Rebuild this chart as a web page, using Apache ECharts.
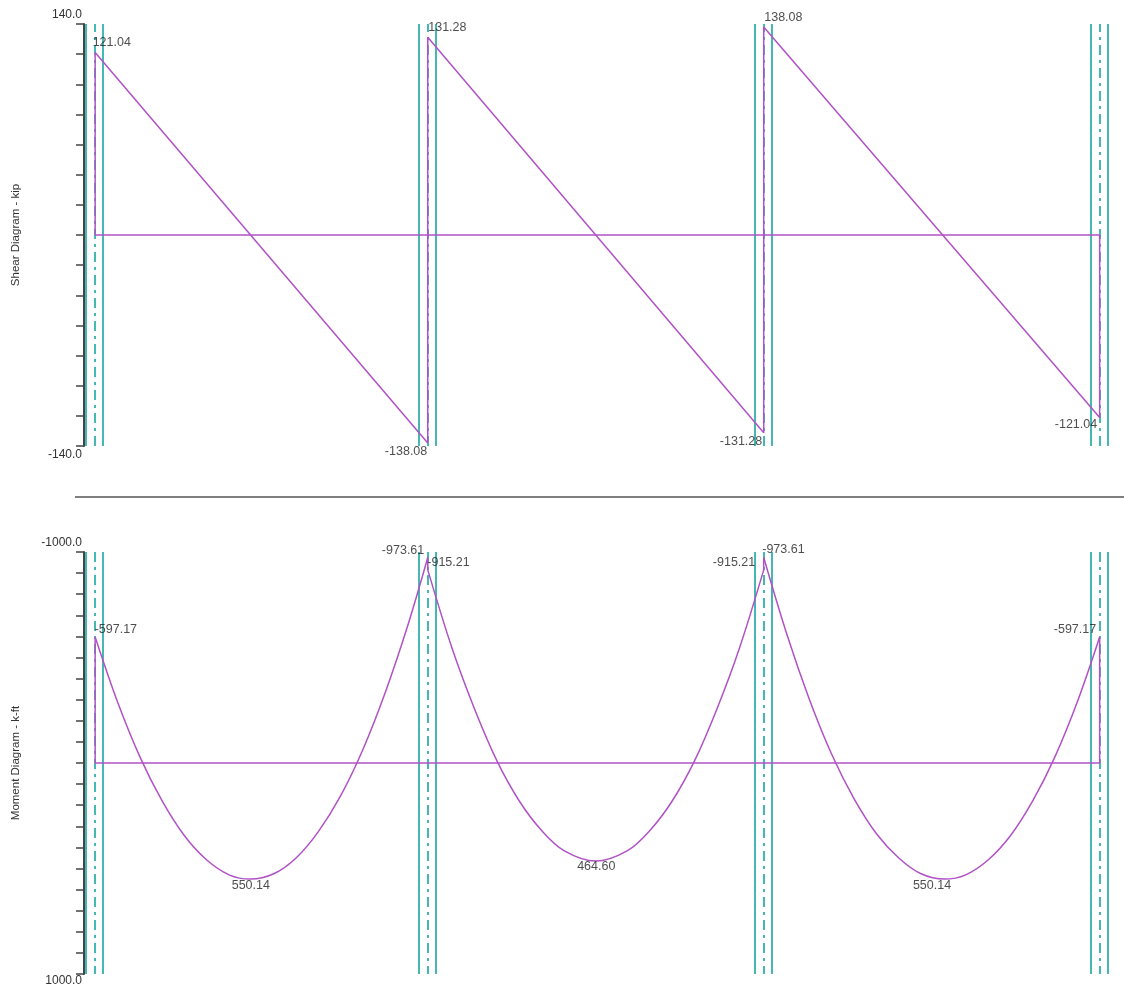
<!DOCTYPE html>
<html><head><meta charset="utf-8">
<script src="https://cdn.jsdelivr.net/npm/echarts@6/dist/echarts.min.js"></script>
<style>html,body{margin:0;padding:0;background:#fff}#c{width:1124px;height:989px}</style>
</head><body><div id="c"></div>
<script>
// ---- data (beam positions in ft-like units) ----
const supportsX = [0, 29.8, 59.9, 90];
const shearX = [0, 0, 29.8, 29.8, 59.9, 59.9, 90, 90];
const shearV = [0, 121.04, -138.08, 131.28, -131.28, 138.08, -121.04, 0];
const span1X = [0, 2, 4, 6, 8, 10, 12, 13.9, 16, 18, 20, 22, 24, 26, 28, 29.8];
const span1M = [-597.17, -290, -30, 180, 345, 460, 530, 550.14, 525, 450, 325, 155, -65, -335, -650, -973.61];
const span2X = [29.8, 32, 34, 36, 38, 40, 42, 44.85, 47.7, 49.7, 51.7, 53.7, 55.7, 57.7, 59.9];
const span2M = [-915.21, -540, -255, -10, 180, 320, 415, 464.60, 415, 320, 180, -10, -255, -540, -915.21];
const span3X = [59.9, 62, 64, 66, 68, 70, 72, 74, 76.1, 78, 80, 82, 84, 86, 88, 90];
const span3M = [-973.61, -605, -300, -40, 170, 335, 450, 525, 550.14, 530, 460, 345, 180, -30, -290, -597.17];
// vertical steps of the moment diagram at the supports: [x, from, to]
const momentSteps = [[0, 0, -597.17], [29.8, -973.61, -915.21], [59.9, -915.21, -973.61], [90, -597.17, 0]];
const shearRange = [-140, 140];
const momentRange = [-1000, 1000];
const shearTickStep = 20;
const momentTickStep = 100;
const shearName = 'Shear Diagram - kip';
const momentName = 'Moment Diagram - k-ft';
// labelled points: [x, value]
const shearLabels = [[0, 121.04], [29.8, 131.28], [59.9, 138.08], [29.8, -138.08], [59.9, -131.28], [90, -121.04]];
const momentLabels = [[0, -597.17], [29.8, -973.61], [29.8, -915.21], [59.9, -915.21], [59.9, -973.61], [90, -597.17], [13.9, 550.14], [44.85, 464.60], [76.1, 550.14]];

// ---- styles ----
const MAG = '#b052c6';
const CYAN = '#45b8b4';
const AX = '#444';
const FONT = 'Liberation Sans, Arial, sans-serif';

// label placements (style only)
const shearLabelPos = [
  {p: [-2, -10], a: 'left'}, {p: [1, -9], a: 'left'}, {p: [1, -9], a: 'left'},
  {p: [0, 9], a: 'right'}, {p: [-1, 9], a: 'right'}, {p: [-2, 8], a: 'right'}
];
const momentLabelPos = [
  {p: [0, -7], a: 'left'}, {p: [-3, -7], a: 'right'}, {p: [0, -7], a: 'left'},
  {p: [-8, -7], a: 'right'}, {p: [-1, -8], a: 'left'}, {p: [-3, -7], a: 'right'},
  {p: [1, 7], a: 'center'}, {p: [1, 6], a: 'center'}, {p: [-12, 7], a: 'center'}
];

const zip = (xs, ys) => xs.map((x, i) => [x, ys[i]]);

function supportMarks() {
  const d = [];
  supportsX.forEach(s => {
    d.push({xAxis: s - 0.8, lineStyle: {type: 'solid', color: CYAN, width: 2}});
    d.push({xAxis: s + 0.72, lineStyle: {type: 'solid', color: CYAN, width: 2}});
    d.push({xAxis: s, lineStyle: {type: [10, 5, 3, 5], color: CYAN, width: 2}});
  });
  return d;
}

function magLine(idx, data, smooth) {
  return {type: 'line', xAxisIndex: idx, yAxisIndex: idx, z: 3, showSymbol: false, silent: true,
    smooth: smooth || false, lineStyle: {color: MAG, width: 1.5}, data: data};
}

function labelSeries(idx, pts, pos) {
  return {
    type: 'scatter', xAxisIndex: idx, yAxisIndex: idx, z: 5,
    symbol: 'circle', symbolSize: 1, itemStyle: {color: 'rgba(0,0,0,0)'},
    silent: true,
    data: pts.map((v, i) => ({
      value: v,
      label: {show: true, position: pos[i].p, align: pos[i].a, verticalAlign: 'middle',
        formatter: p => p.value[1].toFixed(2), fontSize: 12.5, color: '#222', fontFamily: FONT}
    }))
  };
}

function yAxisCfg(idx, range, step, name, inverse, gapTop, gapBot) {
  return {
    gridIndex: idx, type: 'value', min: range[0], max: range[1], interval: step, inverse: inverse,
    name: name, nameLocation: 'middle', nameGap: 62, nameRotate: 90,
    nameTextStyle: {fontSize: 11.5, color: '#333', fontFamily: FONT},
    axisLine: {show: true, onZero: false, lineStyle: {color: AX, width: 2}},
    axisTick: {show: true, length: 8, lineStyle: {color: AX, width: 1.5}},
    splitLine: {show: false},
    axisLabel: {
      margin: 2, fontSize: 12, color: '#333', fontFamily: FONT,
      formatter: v => {
        const top = inverse ? range[0] : range[1];
        const bot = inverse ? range[1] : range[0];
        if (v === top) return '{t|' + v.toFixed(1) + '}';
        if (v === bot) return '{b|' + v.toFixed(1) + '}';
        return '';
      },
      rich: {
        t: {padding: [0, 0, gapTop, 0], fontSize: 12, color: '#333', fontFamily: FONT},
        b: {padding: [gapBot, 0, 0, 0], fontSize: 12, color: '#333', fontFamily: FONT}
      }
    }
  };
}

const series = [
  {type: 'line', xAxisIndex: 0, yAxisIndex: 0, data: [], z: 1,
    markLine: {silent: true, z: 1, symbol: ['none', 'none'], label: {show: false}, data: supportMarks()}},
  {type: 'line', xAxisIndex: 1, yAxisIndex: 1, data: [], z: 1,
    markLine: {silent: true, z: 1, symbol: ['none', 'none'], label: {show: false}, data: supportMarks()}},
  magLine(0, [[supportsX[0], 0], [supportsX[3], 0]]),
  magLine(0, zip(shearX, shearV)),
  magLine(1, [[supportsX[0], 0], [supportsX[3], 0]]),
  magLine(1, zip(span1X, span1M), 0.35),
  magLine(1, zip(span2X, span2M), 0.35),
  magLine(1, zip(span3X, span3M), 0.35)
];
momentSteps.forEach(s => series.push(magLine(1, [[s[0], s[1]], [s[0], s[2]]])));
series.push(labelSeries(0, shearLabels, shearLabelPos));
series.push(labelSeries(1, momentLabels, momentLabelPos));

const chart = echarts.init(document.getElementById('c'), null, {renderer: 'canvas'});
chart.setOption({
  animation: false,
  backgroundColor: '#fff',
  grid: [
    {left: 84, right: 2, top: 24, height: 422},
    {left: 84, right: 2, top: 552, height: 422}
  ],
  xAxis: [
    {gridIndex: 0, type: 'value', min: -1, max: 92, show: false},
    {gridIndex: 1, type: 'value', min: -1, max: 92, show: false}
  ],
  yAxis: [
    yAxisCfg(0, shearRange, shearTickStep, shearName, false, 18, 18),
    yAxisCfg(1, momentRange, momentTickStep, momentName, true, 18, 13)
  ],
  graphic: [{type: 'line', shape: {x1: 75, y1: 497, x2: 1124, y2: 497}, style: {stroke: '#555', lineWidth: 1.5}}],
  series: series
});
</script>
</body></html>
